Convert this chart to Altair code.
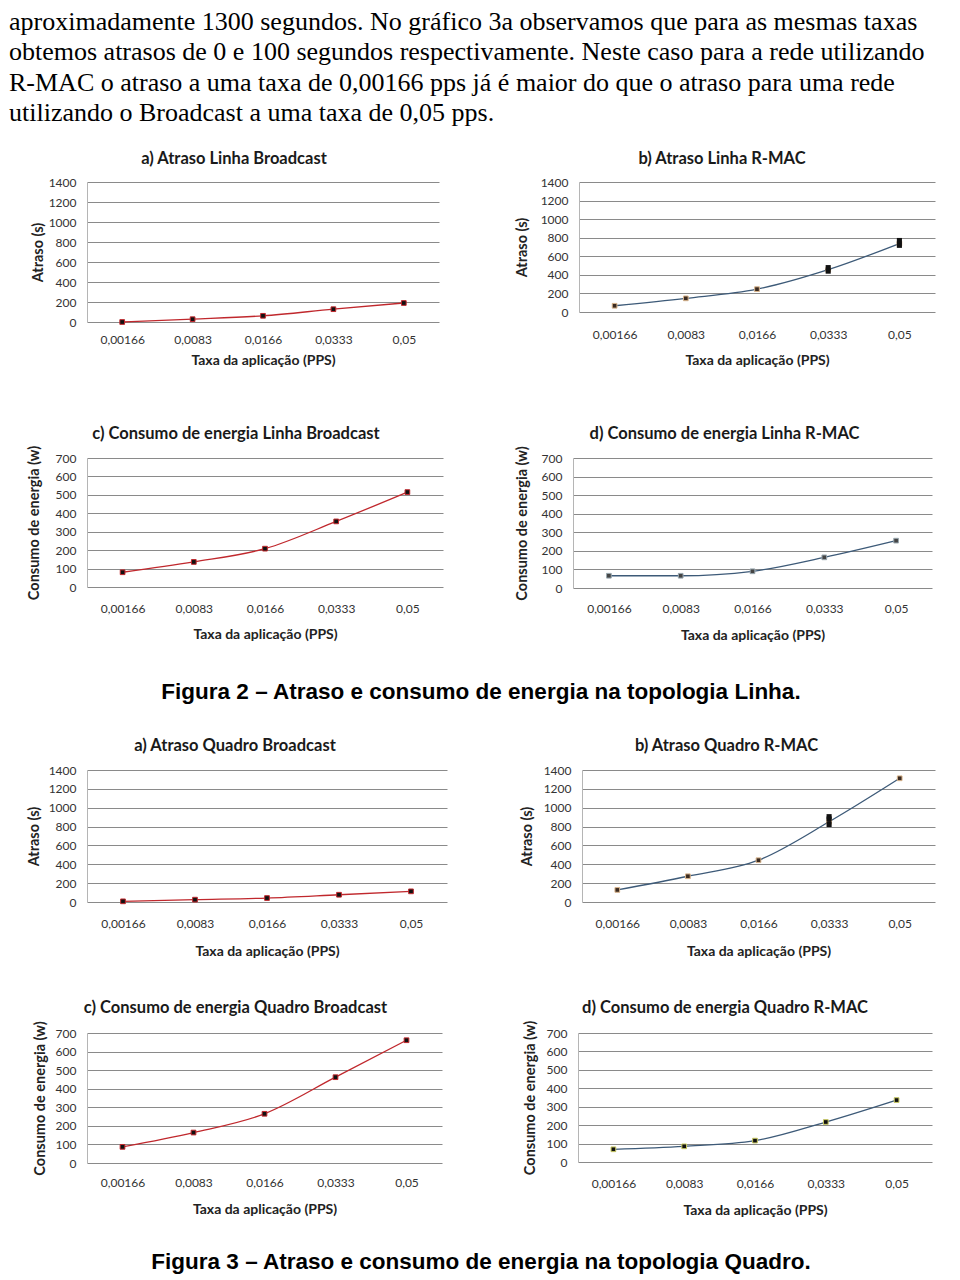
import altair as alt
import pandas as pd

# ---------------- data ----------------
rates = ["0,00166", "0,0083", "0,0166", "0,0333", "0,05"]

linha_bc_atraso = [0, 28, 62, 128, 190]
linha_rmac_atraso = [67, 147, 246, 456, 737]
linha_bc_energia = [80, 136, 208, 356, 515]
linha_rmac_energia = [66, 66, 90, 165, 255]

quadro_bc_atraso = [7, 25, 42, 77, 113]
quadro_rmac_atraso = [128, 273, 443, 851, 1312]
quadro_bc_energia = [87, 164, 265, 462, 661]
quadro_rmac_energia = [69, 85, 116, 217, 336]

linha_rmac_extra_x = ["0,0333", "0,0333", "0,05", "0,05"]
linha_rmac_extra_y = [440, 478, 718, 770]
quadro_rmac_extra_x = ["0,0333", "0,0333", "0,0333"]
quadro_rmac_extra_y = [822, 880, 905]

para_lines = [
    "aproximadamente 1300 segundos. No gráfico 3a observamos que para as mesmas taxas",
    "obtemos atrasos de 0 e 100 segundos respectivamente. Neste caso para a rede utilizando",
    "R-MAC o atraso a uma taxa de 0,00166 pps já é maior do que o atraso para uma rede",
    "utilizando o Broadcast a uma taxa de 0,05 pps.",
]
cap2_text = "Figura 2 – Atraso e consumo de energia na topologia Linha."
cap3_text = "Figura 3 – Atraso e consumo de energia na topologia Quadro."

XTITLE = "Taxa da aplicação (PPS)"
FONT = "Lato"
GRID = "#8a8a8a"
RED = "#c0282d"
BLUE = "#3d5a78"
CELL_W = 849      # width of text cells (origin = left edge of left plots)
ORIGIN_X = 86     # page x of the left plots


def panel(title, values, ytitle, ymax, ystep, w, h, line_color, pt_fill, pt_stroke,
          ytx, xlp, xty, tdx, toff, extra_x=None, extra_y=None):
    df = pd.DataFrame({"rate": rates, "v": values})
    xenc = alt.X(
        "rate:N", sort=rates, title=XTITLE,
        scale=alt.Scale(domain=rates, padding=0.5),
        axis=alt.Axis(labelAngle=0, ticks=False, domain=False, grid=False,
                      labelPadding=xlp, labelFontSize=12, labelFont=FONT,
                      labelColor="#333333", labelOverlap=False,
                      titleFont=FONT, titleFontSize=14,
                      titleFontWeight="bold", titleColor="#222222",
                      titleY=xty, titleBaseline="middle"),
    )
    yenc = alt.Y(
        "v:Q", title=ytitle,
        scale=alt.Scale(domain=[0, ymax], nice=False, zero=True),
        axis=alt.Axis(values=list(range(0, ymax + 1, ystep)), format="d",
                      grid=True, gridColor=GRID, gridWidth=1, ticks=False,
                      domain=True, domainColor="#b5b5b5", labelPadding=11,
                      labelFontSize=12, labelFont=FONT, labelColor="#333333",
                      labelOverlap=False, titleFont=FONT,
                      titleFontSize=14.5, titleFontWeight="bold", titleColor="#222222",
                      titleX=ytx, titleBaseline="middle"),
    )
    base = alt.Chart(df).encode(x=xenc, y=yenc)
    line = base.mark_line(color=line_color, strokeWidth=1.3, interpolate="monotone")
    pts = base.mark_point(shape="square", filled=True, size=22, fill=pt_fill,
                          stroke=pt_stroke, strokeWidth=1, opacity=1)
    layers = [line, pts]
    if extra_x is not None:
        dfe = pd.DataFrame({"rate": extra_x, "v": extra_y})
        layers.append(
            alt.Chart(dfe).mark_point(shape="square", filled=True, size=26,
                                      fill="#111111", opacity=1)
            .encode(x=xenc, y=yenc)
        )
    return alt.layer(*layers).properties(
        width=w, height=h,
        title=alt.TitleParams(title, font=FONT, fontSize=16.5, fontWeight="bold",
                              color="#1a1a1a", dx=tdx, offset=toff),
    )


pa = panel("a) Atraso Linha Broadcast", linha_bc_atraso, "Atraso (s)", 1400, 200,
           352, 140, RED, "#111111", RED, -49, 12, 38, -29, 9)
pb = panel("b) Atraso Linha R-MAC", linha_rmac_atraso, "Atraso (s)", 1400, 200,
           356, 130, BLUE, "#3a2a20", "#d8b48c", -57, 17, 48, -35, 9,
           extra_x=linha_rmac_extra_x, extra_y=linha_rmac_extra_y)
pc = panel("c) Consumo de energia Linha Broadcast", linha_bc_energia,
           "Consumo de energia (w)", 700, 100, 356, 129, RED, "#111111", RED,
           -53, 16, 47, -29, 3)
pdd = panel("d) Consumo de energia Linha R-MAC", linha_rmac_energia,
            "Consumo de energia (w)", 700, 100, 359, 130, BLUE, "#444444", "#9aa8b0",
            -51, 15, 47, -28, 3)

qa = panel("a) Atraso Quadro Broadcast", quadro_bc_atraso, "Atraso (s)", 1400, 200,
           360, 132, RED, "#111111", RED, -53, 16, 49, -32, 10)
qb = panel("b) Atraso Quadro R-MAC", quadro_rmac_atraso, "Atraso (s)", 1400, 200,
           353, 132, BLUE, "#3a2a20", "#d8b48c", -55, 16, 49, -32, 10,
           extra_x=quadro_rmac_extra_x, extra_y=quadro_rmac_extra_y)
qc = panel("c) Consumo de energia Quadro Broadcast", quadro_bc_energia,
           "Consumo de energia (w)", 700, 100, 355, 130, RED, "#111111", RED,
           -47, 14, 46, -29, 4)
qd = panel("d) Consumo de energia Quadro R-MAC", quadro_rmac_energia,
           "Consumo de energia (w)", 700, 100, 354, 129, BLUE, "#111111", "#c8c860",
           -48, 16, 48, -30, 4)

# paragraph of body text above the figures
para = (
    alt.Chart(pd.DataFrame({"i": list(range(len(para_lines))), "t": para_lines}))
    .mark_text(font="Liberation Serif", fontSize=26, align="left",
               baseline="alphabetic", color="black")
    .encode(
        text="t:N",
        x=alt.value(8 - ORIGIN_X),
        y=alt.Y("i:Q", axis=None,
                scale=alt.Scale(domain=[0, len(para_lines) - 1], range=[21, 112])),
    )
    .properties(width=CELL_W, height=131.6)
)


def caption(text, h, yc):
    return (
        alt.Chart(pd.DataFrame({"t": [text]}))
        .mark_text(font="Liberation Sans", fontSize=22.5, fontWeight="bold",
                   color="black", align="center", baseline="middle")
        .encode(text="t:N", x=alt.value(480 - ORIGIN_X), y=alt.value(yc))
        .properties(width=CELL_W, height=h)
    )


linha = alt.vconcat(
    alt.hconcat(pa, pb, spacing=73),
    alt.hconcat(pc, pdd, spacing=69),
    spacing=57,
)
quadro = alt.vconcat(
    alt.hconcat(qa, qb, spacing=70),
    alt.hconcat(qc, qd, spacing=78),
    spacing=40,
)

chart = (
    alt.vconcat(para, linha, caption(cap2_text, 76, 40), quadro,
                caption(cap3_text, 46, 34.5), spacing=8)
    .properties(padding=0, background="white")
    .configure_view(stroke="transparent")
)

chart.save("out.html", embed_options={"renderer": "svg", "actions": False})
